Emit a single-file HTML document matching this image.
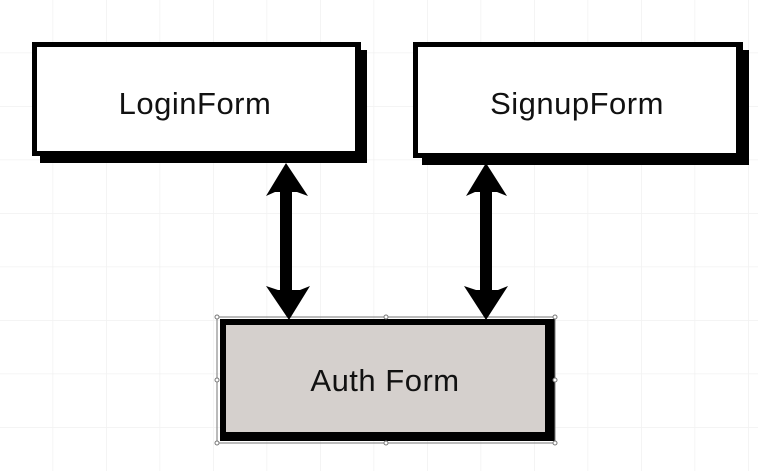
<!DOCTYPE html>
<html><head><meta charset="utf-8"><style>
html,body{margin:0;padding:0;background:#fff;}
svg{display:block;}
text{font-family:"Liberation Sans","DejaVu Sans",sans-serif;font-size:31px;fill:#111;letter-spacing:0.5px;}
</style></head><body>
<svg width="758" height="471" viewBox="0 0 758 471" xmlns="http://www.w3.org/2000/svg">
<defs>
<pattern id="g" x="-1" y="-1" width="53.5" height="53.5" patternUnits="userSpaceOnUse">
<path d="M0 0H53.5M0 0V53.5" stroke="#f1f1f1" stroke-width="1.5" fill="none"/>
</pattern>
</defs>
<rect width="758" height="471" fill="url(#g)"/>
<!-- LoginForm -->
<rect x="40" y="50" width="327" height="113" fill="#000"/>
<rect x="32" y="42" width="329" height="114" fill="#000"/>
<rect x="37" y="47" width="318" height="104" fill="#fff"/>
<text x="195" y="114" text-anchor="middle">LoginForm</text>
<!-- SignupForm -->
<rect x="422" y="50" width="327" height="115" fill="#000"/>
<rect x="413" y="42" width="330" height="116" fill="#000"/>
<rect x="418" y="47" width="318" height="106" fill="#fff"/>
<text x="577" y="114" text-anchor="middle">SignupForm</text>
<!-- Auth Form -->
<rect x="220" y="319" width="335" height="122" fill="#000"/>
<rect x="226" y="325" width="319" height="107" fill="#d5d0cd"/>
<text x="385" y="391" text-anchor="middle">Auth Form</text>
<g fill="none" stroke="#777" stroke-width="1">
<rect x="217" y="317" width="338" height="126"/>
</g>
<g fill="#fff" stroke="#777" stroke-width="1">
<circle cx="217" cy="317" r="2"/><circle cx="386" cy="317" r="2"/><circle cx="555" cy="317" r="2"/>
<circle cx="217" cy="380" r="2"/><circle cx="555" cy="380" r="2"/>
<circle cx="217" cy="443" r="2"/><circle cx="386" cy="443" r="2"/><circle cx="555" cy="443" r="2"/>
</g>
<!-- arrows -->
<g fill="#000">
<rect x="280" y="185" width="12" height="110"/>
<path d="M286 163 L308 196 L297 192 L275 192 L266 196 Z"/>
<path d="M289 320 L266 286 L278 290 L300 290 L310 286 Z"/>
<rect x="480" y="185" width="12" height="110"/>
<path d="M486 163 L507 196 L497 192 L475 192 L466 196 Z"/>
<path d="M486 320 L464 286 L476 290 L498 290 L508 286 Z"/>
</g>
</svg>
</body></html>
